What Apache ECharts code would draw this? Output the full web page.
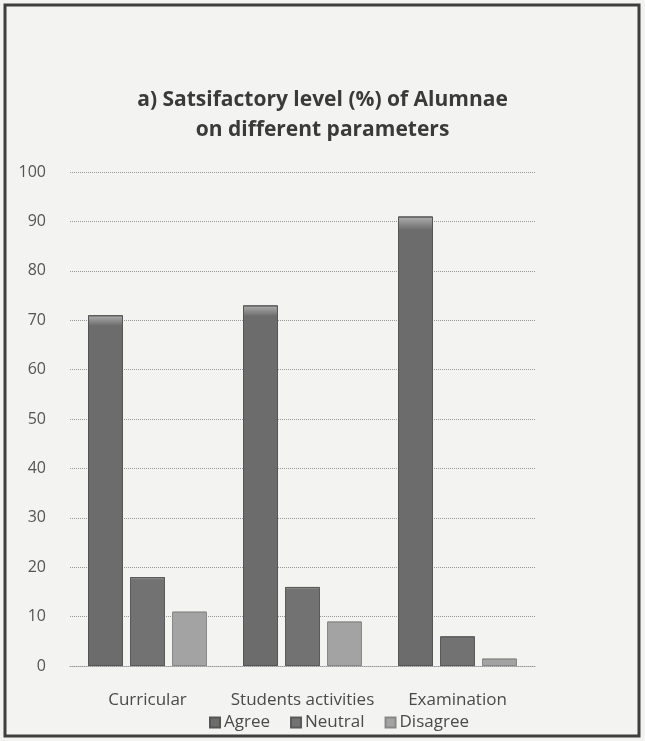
<!DOCTYPE html>
<html>
<head>
<meta charset="utf-8">
<script src="https://cdn.jsdelivr.net/npm/echarts@6/dist/echarts.min.js"></script>
<style>
  html, body { margin: 0; padding: 0; background: #f3f3f1; }
  #main { width: 645px; height: 741px; }
</style>
</head>
<body>
<div id="main"></div>
<script>
// data
var categories = ['Curricular', 'Students activities', 'Examination'];
var agree = [71, 73, 91];
var neutral = [18, 16, 6];
var disagree = [11, 9, 1.5];
var seriesNames = ['Agree', 'Neutral', 'Disagree'];

var myChart = echarts.init(document.getElementById('main'));

function grad(top, bottom) {
    return new echarts.graphic.LinearGradient(0, 0, 0, 1, [
        { offset: 0, color: top },
        { offset: 0.03, color: bottom },
        { offset: 1, color: bottom }
    ]);
}

myChart.setOption({
    backgroundColor: '#f3f3f1',
    textStyle: { fontFamily: 'Open Sans' },
    title: {
        text: 'a) Satsifactory level (%) of Alumnae\non different parameters',
        left: 'center',
        top: 80,
        textStyle: { fontSize: 21, fontWeight: 'bold', color: '#3a3a3a', lineHeight: 30, fontFamily: 'Open Sans' }
    },
    graphic: [{
        type: 'rect',
        shape: { x: 5, y: 5, width: 634, height: 731 },
        style: { fill: 'none', stroke: '#3e3e3e', lineWidth: 3 },
        silent: true
    }],
    legend: {
        data: seriesNames,
        bottom: 5,
        left: 204,
        itemWidth: 10,
        itemHeight: 10,
        itemGap: 20,
        icon: 'rect',
        textStyle: { fontSize: 17, color: '#4a4a4a', padding: [0, 0, 0, -1] }
    },
    grid: { left: 70, right: 110, top: 172, bottom: 75 },
    xAxis: {
        type: 'category',
        data: categories,
        axisLine: { lineStyle: { color: '#9a9a9a', type: 'dotted' } },
        axisTick: { show: false },
        axisLabel: { interval: 0, fontSize: 17, color: '#4a4a4a', margin: 26 }
    },
    yAxis: {
        type: 'value',
        min: 0,
        max: 100,
        interval: 10,
        axisLine: { show: false },
        axisTick: { show: false },
        axisLabel: { fontSize: 16, color: '#555', margin: 24 },
        splitLine: { lineStyle: { color: '#999', type: 'dotted', width: 1 } }
    },
    series: [
        {
            name: 'Agree', type: 'bar', data: agree, barWidth: 35, barGap: '20%',
            itemStyle: { color: grad('#b0b0b0', '#6c6c6c'), borderColor: '#555', borderWidth: 1 }
        },
        {
            name: 'Neutral', type: 'bar', data: neutral, barWidth: 35,
            itemStyle: { color: grad('#aaaaaa', '#727272'), borderColor: '#5a5a5a', borderWidth: 1 }
        },
        {
            name: 'Disagree', type: 'bar', data: disagree, barWidth: 35,
            itemStyle: { color: grad('#d0d0d0', '#a3a3a3'), borderColor: '#888', borderWidth: 1 }
        }
    ]
});
</script>
</body>
</html>
